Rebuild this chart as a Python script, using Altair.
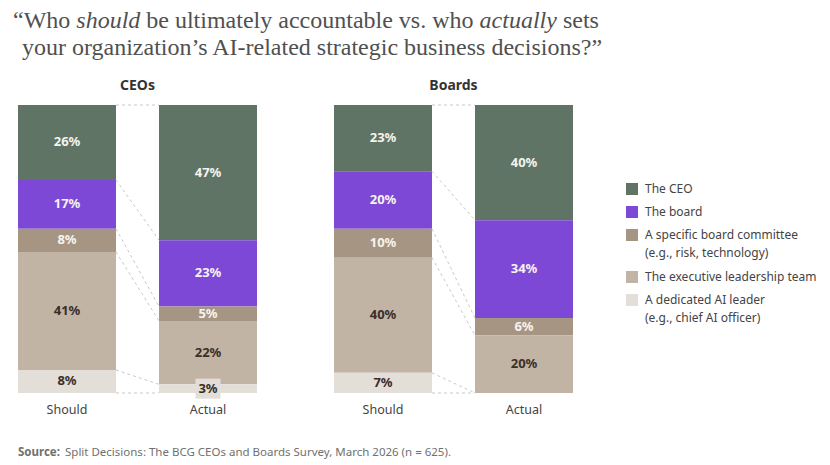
import altair as alt
import pandas as pd

# ---- data -------------------------------------------------------------
categories = [
    "The CEO",
    "The board",
    "A specific board committee",
    "The executive leadership team",
    "A dedicated AI leader",
]
legend_lines = [
    ["The CEO"],
    ["The board"],
    ["A specific board committee", "(e.g., risk, technology)"],
    ["The executive leadership team"],
    ["A dedicated AI leader", "(e.g., chief AI officer)"],
]
columns = ["Should", "Actual"]
panels = ["CEOs", "Boards"]

ceos_should = [26, 17, 8, 41, 8]
ceos_actual = [47, 23, 5, 22, 3]
boards_should = [23, 20, 10, 40, 7]
boards_actual = [40, 34, 6, 20, 0]

title_line1 = ["\u201cWho", "should", "be ultimately accountable vs. who", "actually", "sets"]
title_italic = [False, True, False, True, False]
title_line2 = "your organization\u2019s AI-related strategic business decisions?\u201d"
source_label = "Source:"
source_text = "Split Decisions: The BCG CEOs and Boards Survey, March 2026 (n = 625)."

# ---- styling ------------------------------------------------------------
colors = ["#5f7464", "#7d48d6", "#a79583", "#c2b4a5", "#e3ded8"]
light_text, dark_text = "#f6f3ee", "#3a2f27"
sans = "Noto Sans"
serif = "Liberation Serif"
color_scale = alt.Scale(domain=categories, range=colors)
PANEL_W, PANEL_H = 249, 288


def stack(col, values):
    rows, top = [], 100
    for cat, v in zip(categories, values):
        rows.append(dict(col=col, category=cat, value=v, y1=top, y0=top - v,
                         mid=top - v / 2, label=f"{v}%"))
        top -= v
    return rows


def edges(values):
    out, top = [100], 100
    for v in values:
        top -= v
        out.append(top)
    return out


def panel(name, should, actual):
    seg = pd.DataFrame(stack("Should", should) + stack("Actual", actual))
    seg = seg[seg["value"] > 0]
    links = pd.DataFrame({"col": "Should", "right": "Actual",
                          "ys": edges(should), "ya": edges(actual)})
    small = seg[seg["value"] < 4]

    xscale = alt.Scale(domain=columns, paddingInner=0.305, paddingOuter=0.0355)
    yscale = alt.Scale(domain=[0, 100], nice=False)
    axis = alt.Axis(title=None, labelAngle=0, ticks=False, domain=False,
                    labelPadding=10, labelFontSize=12.5, labelFont=sans,
                    labelColor="#444444")
    x_enc = alt.X("col:N", scale=xscale, sort=columns, axis=axis)

    bars = alt.Chart(seg).mark_bar().encode(
        x=x_enc,
        y=alt.Y("y0:Q", scale=yscale, axis=None),
        y2="y1:Q",
        color=alt.Color("category:N", scale=color_scale, legend=None),
    )
    # dashed connectors between matching segment boundaries
    rules = alt.Chart(links).mark_rule(strokeDash=[3, 3], color="#c9c9c9", strokeWidth=1).encode(
        x=alt.X("col:N", scale=xscale, sort=columns, axis=axis, bandPosition=1),
        x2=alt.X2("right:N", bandPosition=0),
        y=alt.Y("ys:Q", scale=yscale, axis=None),
        y2="ya:Q",
    )
    # backing chip behind labels of very thin segments
    boxes = alt.Chart(small).mark_point(
        shape="M-1.25,-1L1.25,-1L1.25,1L-1.25,1Z", filled=True, opacity=1,
        size=400, color=colors[-1],
    ).encode(x=x_enc, y=alt.Y("mid:Q", scale=yscale, axis=None))
    labels = alt.Chart(seg).mark_text(font=sans, fontWeight="bold", fontSize=13,
                                      baseline="middle").encode(
        x=x_enc,
        y=alt.Y("mid:Q", scale=yscale, axis=None),
        text="label:N",
        color=alt.condition(
            "indexof(['The CEO', 'The board', 'A specific board committee'], datum.category) >= 0",
            alt.value(light_text), alt.value(dark_text)),
    )
    return alt.layer(bars, rules, boxes, labels).properties(
        width=PANEL_W, height=PANEL_H,
        title=alt.TitleParams(name, font=sans, fontSize=14, fontWeight="bold",
                              color="#333333", offset=12, anchor="middle"),
    )


# ---- legend -------------------------------------------------------------
sw_rows, txt_rows = [], []
ypos = 84
for cat, lines in zip(categories, legend_lines):
    sw_rows.append(dict(category=cat, ypos=ypos))
    for i, line in enumerate(lines):
        txt_rows.append(dict(text=line, ypos=ypos + 18 * i))
    ypos += 23 + 19 * (len(lines) - 1)

legend_sw = alt.Chart(pd.DataFrame(sw_rows)).mark_square(size=144, opacity=1).encode(
    x=alt.value(6),
    y=alt.Y("ypos:Q", scale=None),
    color=alt.Color("category:N", scale=color_scale, legend=None),
)
legend_txt = alt.Chart(pd.DataFrame(txt_rows)).mark_text(
    align="left", baseline="middle", font=sans, fontSize=12, color="#444444"
).encode(x=alt.value(19), y=alt.Y("ypos:Q", scale=None), text="text:N")
legend = alt.layer(legend_sw, legend_txt).properties(width=190, height=PANEL_H)

# ---- headline -----------------------------------------------------------
seg_x = [0, 63.3, 133.3, 466.6, 549.9]
head_rows = [dict(text=t, x=x, y=27, italic=it)
             for t, x, it in zip(title_line1, seg_x, title_italic)]
head_rows.append(dict(text=title_line2, x=9, y=53.5, italic=False))
head_df = pd.DataFrame(head_rows)


def head_layer(italic):
    return alt.Chart(head_df[head_df["italic"] == italic]).mark_text(
        align="left", baseline="alphabetic", font=serif, fontSize=24,
        fontStyle="italic" if italic else "normal", color="#505050",
    ).encode(x=alt.X("x:Q", scale=None), y=alt.Y("y:Q", scale=None), text="text:N")


header = alt.layer(head_layer(False), head_layer(True)).properties(width=600, height=76)

# ---- source line -------------------------------------------------------
foot_df = pd.DataFrame([dict(text=source_label, x=5, bold=True),
                        dict(text=source_text, x=52, bold=False)])
foot_bold = alt.Chart(foot_df[foot_df["bold"]]).mark_text(
    align="left", baseline="alphabetic", font=sans, fontSize=11.5, fontWeight="bold",
    color="#707070").encode(x=alt.X("x:Q", scale=None), y=alt.value(39), text="text:N")
foot_reg = alt.Chart(foot_df[~foot_df["bold"]]).mark_text(
    align="left", baseline="alphabetic", font=sans, fontSize=11.5,
    color="#707070").encode(x=alt.X("x:Q", scale=None), y=alt.value(39), text="text:N")
footer = alt.layer(foot_bold, foot_reg).properties(width=600, height=45)

body = alt.hconcat(
    alt.hconcat(panel("CEOs", ceos_should, ceos_actual),
                panel("Boards", boards_should, boards_actual), spacing=65),
    legend, spacing=46,
)

chart = alt.vconcat(header, body, footer, spacing=0).properties(
    padding={"left": 12, "top": 0, "right": 0, "bottom": 0},
    background="#ffffff",
).configure_view(stroke="transparent")

chart.save("out.html", embed_options={"renderer": "svg", "actions": False})
